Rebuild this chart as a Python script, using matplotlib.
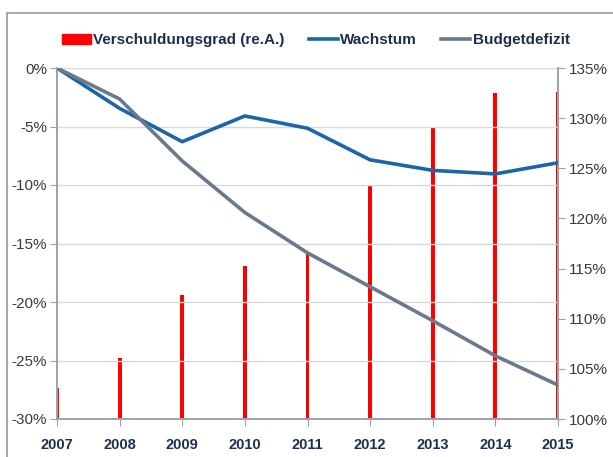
import matplotlib.pyplot as plt
from matplotlib.patches import Patch
from matplotlib.lines import Line2D
from matplotlib.ticker import FuncFormatter

jahre = [2007, 2008, 2009, 2010, 2011, 2012, 2013, 2014, 2015]
wachstum = [0.0, -3.45, -6.3, -4.1, -5.15, -7.85, -8.75, -9.05, -8.1]
budgetdefizit = [0.0, -2.65, -7.95, -12.35, -15.8, -18.7, -21.6, -24.6, -27.1]
verschuldung = [103.1, 106.05, 112.4, 115.3, 116.5, 123.3, 129.05, 132.5, 132.6]

rot = '#FF0000'
blau = '#1C65A6'
grau = '#6A7A8C'
navy = '#1F2F4F'
achse = '#A0A0A8'

plt.rcParams['font.family'] = ['Liberation Sans', 'DejaVu Sans']

fig = plt.figure(figsize=(6.13, 4.57), dpi=100)
ax = fig.add_axes([57/613, 38/457, 501/613, 351/457])
ax2 = ax.twinx()

ax2.bar(jahre, verschuldung, width=0.06, color=rot, zorder=2)
ax.plot(jahre, wachstum, color=blau, lw=2.6, zorder=3)
ax.plot(jahre, budgetdefizit, color=grau, lw=2.6, zorder=3)

# linien vor die balken
ax.set_zorder(ax2.get_zorder() + 1)
ax.patch.set_visible(False)

ax.set_xlim(2007, 2015)
ax.set_ylim(-30, 0)
ax2.set_ylim(100, 135)
ax.set_yticks(range(-30, 1, 5))
ax2.set_yticks(range(100, 136, 5))
ax.set_xticks(jahre)
ax.yaxis.set_major_formatter(FuncFormatter(lambda v, p: '%d%%' % v))
ax2.yaxis.set_major_formatter(FuncFormatter(lambda v, p: '%d%%' % v))

ax.grid(axis='y', color='#D9D9D9', lw=1, zorder=0)
ax.spines['top'].set_visible(False)
ax2.spines['top'].set_visible(False)
for a in (ax, ax2):
    for s in ['left', 'right', 'bottom']:
        a.spines[s].set_color(achse)
        a.spines[s].set_linewidth(1.2)

ax.tick_params(axis='y', length=5, color=achse, labelsize=11, labelcolor='#3A3A3A', pad=2)
ax2.tick_params(axis='y', length=5, color=achse, labelsize=11, labelcolor='#3A3A3A', pad=3)
ax.tick_params(axis='x', length=5, color=achse, labelsize=10.5, labelcolor=navy, pad=9)
for t in ax.get_xticklabels():
    t.set_fontweight('bold')

handles = [Patch(color=rot), Line2D([], [], color=blau, lw=2.6), Line2D([], [], color=grau, lw=2.6)]
labels = ['Verschuldungsgrad (re.A.)', 'Wachstum', 'Budgetdefizit']
leg = fig.legend(handles, labels, loc='center', bbox_to_anchor=(0.515, 0.912), ncol=3, frameon=False,
                 fontsize=11, handlelength=1.9, handletextpad=0.15, columnspacing=1.6, handleheight=0.6)
for t in leg.get_texts():
    t.set_color(navy)
    t.set_fontweight('bold')

# rahmen
fig.add_artist(plt.Rectangle((7/613, -0.1), 1.2, (457 - 13)/457 + 0.1, transform=fig.transFigure,
                             fill=False, edgecolor='#9A9AA4', lw=1.2))

plt.savefig('out.png', dpi=100)
